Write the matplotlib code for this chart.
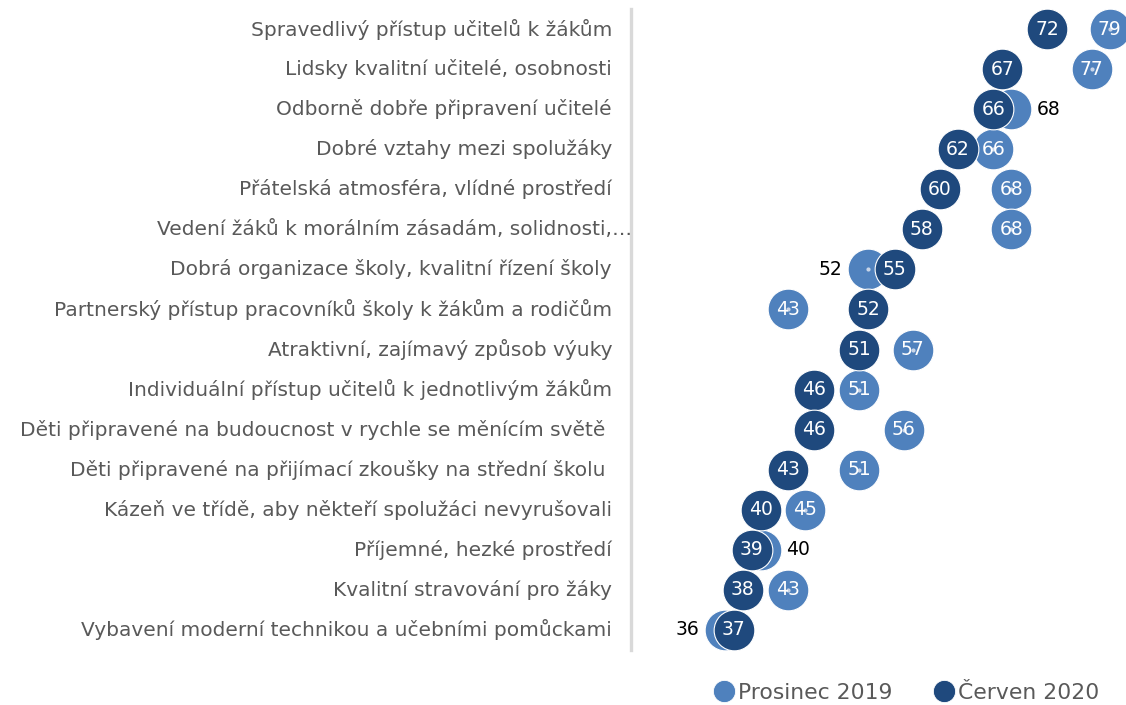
import matplotlib
matplotlib.use("Agg")
import matplotlib.pyplot as plt
from matplotlib.lines import Line2D
import matplotlib.transforms as mtransforms

categories = [
    "Spravedlivý přístup učitelů k žákům",
    "Lidsky kvalitní učitelé, osobnosti",
    "Odborně dobře připravení učitelé",
    "Dobré vztahy mezi spolužáky",
    "Přátelská atmosféra, vlídné prostředí",
    "Vedení žáků k morálním zásadám, solidnosti,…",
    "Dobrá organizace školy, kvalitní řízení školy",
    "Partnerský přístup pracovníků školy k žákům a rodičům",
    "Atraktivní, zajímavý způsob výuky",
    "Individuální přístup učitelů k jednotlivým žákům",
    "Děti připravené na budoucnost v rychle se měnícím světě ",
    "Děti připravené na přijímací zkoušky na střední školu ",
    "Kázeň ve třídě, aby někteří spolužáci nevyrušovali",
    "Příjemné, hezké prostředí",
    "Kvalitní stravování pro žáky",
    "Vybavení moderní technikou a učebními pomůckami",
]
prosinec_2019 = [79, 77, 68, 66, 68, 68, 52, 43, 57, 51, 56, 51, 45, 40, 43, 36]
cerven_2020 = [72, 67, 66, 62, 60, 58, 55, 52, 51, 46, 46, 43, 40, 39, 38, 37]
series_names = ["Prosinec 2019", "Červen 2020"]

LIGHT = "#4f81bd"
DARK = "#1f497d"
GREY_TXT = "#595959"
FONT = "DejaVu Sans"

W, H = 1126, 705
fig = plt.figure(figsize=(W / 100, H / 100), dpi=100)
ax_left, ax_right, ax_top, ax_bot = 631, 1123, 9, 650
ax = fig.add_axes([ax_left / W, (H - ax_bot) / H, (ax_right - ax_left) / W, (ax_bot - ax_top) / H])
ax.set_xlim(25.5, 80.5)
ax.set_ylim(len(categories) - 0.5, -0.5)

ys = list(range(len(categories)))
msize = 860
ax.scatter(prosinec_2019, ys, s=msize, color=LIGHT, edgecolors="white", linewidths=0.8, zorder=3, clip_on=False)
ax.scatter(prosinec_2019, ys, s=4, color="#c9d6e8", zorder=3.5, clip_on=False)
ax.scatter(cerven_2020, ys, s=msize, color=DARK, edgecolors="white", linewidths=0.8, zorder=4, clip_on=False)

NUM_FS = 13.5
for y, p, c in zip(ys, prosinec_2019, cerven_2020):
    ax.text(c, y, str(c), color="white", ha="center", va="center", fontsize=NUM_FS, family=FONT, zorder=6)
    if abs(p - c) < 4:
        off = 27 if p > c else -27
        ax.annotate(str(p), (p, y), xytext=(off, 0), textcoords="offset points",
                    ha="center", va="center", fontsize=NUM_FS, family=FONT, color="black", zorder=6)
    else:
        ax.text(p, y, str(p), color="white", ha="center", va="center", fontsize=NUM_FS, family=FONT, zorder=5)

# category labels
trans = mtransforms.blended_transform_factory(ax.transAxes, ax.transData)
for y, cat in zip(ys, categories):
    dx = -19 if not cat.endswith("…") else 1
    t = trans + mtransforms.ScaledTranslation(dx / 100, 0, fig.dpi_scale_trans)
    ax.text(0, y, cat, transform=t, ha="right", va="center", fontsize=14.5, family=FONT, color=GREY_TXT)

for s in ["top", "right", "bottom"]:
    ax.spines[s].set_visible(False)
ax.spines["left"].set_color("#d9d9d9")
ax.spines["left"].set_linewidth(2.4)
ax.set_xticks([])
ax.set_yticks([])

handles = [Line2D([], [], marker="o", linestyle="none", markersize=16, markerfacecolor=LIGHT,
                  markeredgecolor="white", markeredgewidth=0.6),
           Line2D([], [], marker="o", linestyle="none", markersize=16, markerfacecolor=DARK,
                  markeredgecolor="white", markeredgewidth=0.6)]
leg = fig.legend(handles, series_names, loc="center right", bbox_to_anchor=(1099 / W, (H - 693) / H),
                 ncol=2, frameon=False, handletextpad=0.14, columnspacing=1.87,
                 handlelength=1.0, borderpad=0, borderaxespad=0, prop={"family": FONT, "size": 15.75})
for t in leg.get_texts():
    t.set_color(GREY_TXT)

fig.savefig("out.png", dpi=100)
